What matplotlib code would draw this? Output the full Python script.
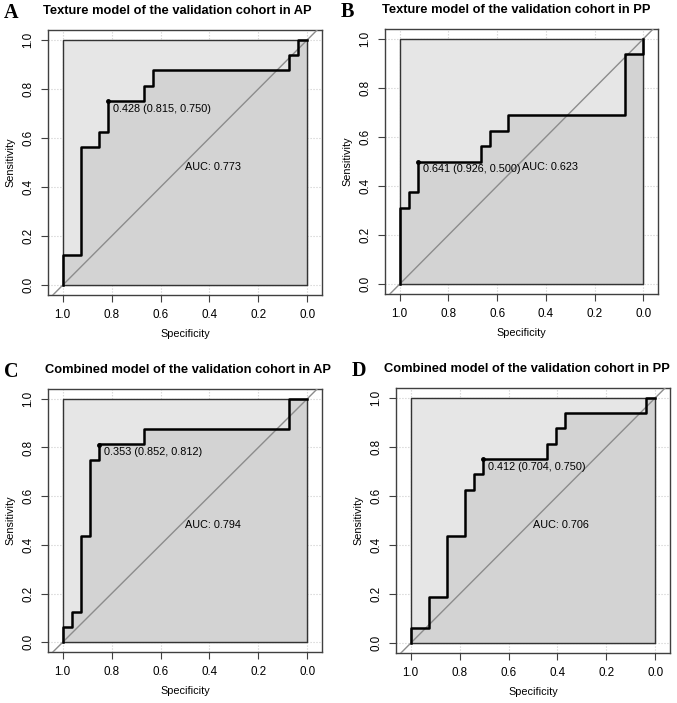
import numpy as np
import matplotlib
matplotlib.use('Agg')
import matplotlib.pyplot as plt
from matplotlib import rcParams

rcParams['font.family'] = 'sans-serif'
rcParams['font.sans-serif'] = ['Liberation Sans', 'DejaVu Sans']
rcParams['font.size'] = 7.8

# ---------------- data (ROC corners: specificity, sensitivity) ----------------
titles = ['Texture model of the validation cohort in AP',
          'Texture model of the validation cohort in PP',
          'Combined model of the validation cohort in AP',
          'Combined model of the validation cohort in PP']
letters = ['A', 'B', 'C', 'D']

specA = [1.0, 1.0, 0.926, 0.926, 0.852, 0.852, 0.815, 0.815, 0.667, 0.667, 0.630, 0.630, 0.074, 0.074, 0.037, 0.037, 0.0]
sensA = [0.0, 0.125, 0.125, 0.5625, 0.5625, 0.625, 0.625, 0.75, 0.75, 0.8125, 0.8125, 0.875, 0.875, 0.9375, 0.9375, 1.0, 1.0]

specB = [1.0, 1.0, 0.963, 0.963, 0.926, 0.926, 0.667, 0.667, 0.630, 0.630, 0.556, 0.556, 0.074, 0.074, 0.0, 0.0]
sensB = [0.0, 0.3125, 0.3125, 0.375, 0.375, 0.5, 0.5, 0.5625, 0.5625, 0.625, 0.625, 0.6875, 0.6875, 0.9375, 0.9375, 1.0]

specC = [1.0, 1.0, 0.963, 0.963, 0.926, 0.926, 0.889, 0.889, 0.852, 0.852, 0.667, 0.667, 0.074, 0.074, 0.0]
sensC = [0.0, 0.0625, 0.0625, 0.125, 0.125, 0.4375, 0.4375, 0.75, 0.75, 0.8125, 0.8125, 0.875, 0.875, 1.0, 1.0]

specD = [1.0, 1.0, 0.926, 0.926, 0.852, 0.852, 0.778, 0.778, 0.741, 0.741, 0.704, 0.704, 0.444, 0.444, 0.407, 0.407,
         0.370, 0.370, 0.037, 0.037, 0.0]
sensD = [0.0, 0.0625, 0.0625, 0.1875, 0.1875, 0.4375, 0.4375, 0.625, 0.625, 0.6875, 0.6875, 0.75, 0.75, 0.8125, 0.8125,
         0.875, 0.875, 0.9375, 0.9375, 1.0, 1.0]

# best threshold points
best_thr = [0.428, 0.641, 0.353, 0.412]
best_spec = [0.815, 0.926, 0.852, 0.704]
best_sens = [0.750, 0.500, 0.812, 0.750]
auc = [0.773, 0.623, 0.794, 0.706]

specs = [specA, specB, specC, specD]
senss = [sensA, sensB, sensC, sensD]

ticks = [1.0, 0.8, 0.6, 0.4, 0.2, 0.0]

# ---------------- layout (pixels of a 677x703 figure) ----------------
W, H = 677, 703
boxes = [(48, 30, 322, 295), (385, 29, 658, 294), (48, 389, 322, 652), (396, 388, 670, 653)]
title_x = [177, 516, 188, 527]

fig = plt.figure(figsize=(W / 100, H / 100), dpi=100)

light = '#e6e6e6'
dark = '#d3d3d3'
edge = '#404040'

for i in range(4):
    x0, y0, x1, y1 = boxes[i]
    ax = fig.add_axes([x0 / W, 1 - y1 / H, (x1 - x0) / W, (y1 - y0) / H])
    ax.set_xlim(1.06, -0.06)
    ax.set_ylim(-0.04, 1.04)

    # grid (only visible outside the polygons)
    for t in ticks:
        ax.axvline(t, color='#cccccc', linestyle=':', linewidth=0.8, zorder=0)
        ax.axhline(t, color='#cccccc', linestyle=':', linewidth=0.8, zorder=0)

    # max auc polygon
    ax.fill([1, 1, 0, 0], [0, 1, 1, 0], color=light, zorder=1)
    # auc polygon
    sp = list(specs[i]) + [0.0, 1.0]
    se = list(senss[i]) + [0.0, 0.0]
    ax.fill(sp, se, color=dark, zorder=2)
    ax.plot([1, 1, 0, 0, 1], [0, 1, 1, 0, 0], color='#333333', linewidth=1.0, zorder=3)

    # chance line
    ax.axline((1, 0), (0, 1), color='#8c8c8c', linewidth=1.0, zorder=4)

    # roc curve
    ax.plot(specs[i], senss[i], color='black', linewidth=1.8, zorder=5)
    ax.plot(best_spec[i], best_sens[i], 'o', color='black', markersize=2.5, zorder=6)
    ax.annotate('%.3f (%.3f, %.3f)' % (best_thr[i], best_spec[i], best_sens[i]),
                (best_spec[i], best_sens[i]), xytext=(3.5, -5.5), textcoords='offset points',
                ha='left', va='center', fontsize=7.8, zorder=7)
    ax.text(0.5, 0.5, 'AUC: %.3f' % auc[i], ha='left', va='top', fontsize=7.8, zorder=7)

    ax.set_xticks(ticks)
    ax.set_yticks(ticks)
    ax.set_xticklabels(['%.1f' % t for t in ticks], fontsize=8.4)
    ax.set_yticklabels(['%.1f' % t for t in ticks], rotation=90, va='center', fontsize=8.4)
    ax.tick_params(direction='out', length=5, width=0.8, color=edge, pad=5)
    for s in ax.spines.values():
        s.set_color(edge)
        s.set_linewidth(1.0)
    ax.set_xlabel('Specificity', labelpad=5.5)
    ax.set_ylabel('Sensitivity', labelpad=4.5)

    # title + panel letter
    fig.text(title_x[i] / W, 1 - (y0 - 19) / H, titles[i], ha='center', va='center', fontsize=9.3, fontweight='bold')
    fig.text((x0 - 44) / W, 1 - (y0 - 17) / H, letters[i], ha='left', va='center', fontsize=14.5,
             fontweight='bold', family='Liberation Serif')

fig.savefig('out.png', dpi=100)
